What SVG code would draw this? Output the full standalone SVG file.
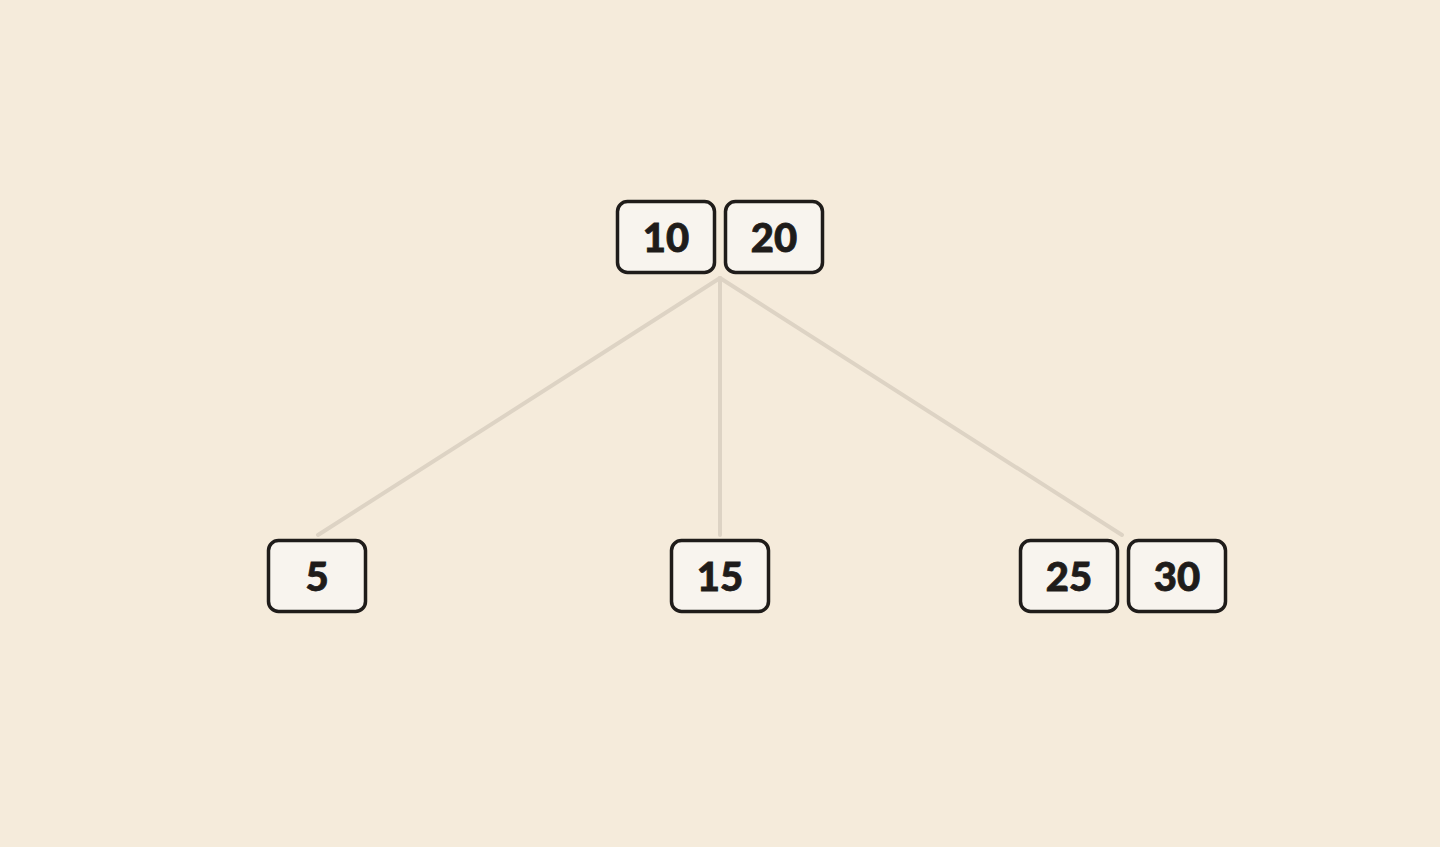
<svg xmlns="http://www.w3.org/2000/svg" width="1440" height="847" viewBox="0 0 1440 847">
<style>
.k rect{fill:#f8f4ee;stroke:#1f1c1a;stroke-width:3.5}
.k text{font-family:Lato,"Liberation Sans",sans-serif;font-weight:900;font-size:40px;fill:#1f1c1a;stroke:#1f1c1a;stroke-width:0.8;text-anchor:middle}
.e line{stroke:#ddd3c4;stroke-width:4;stroke-linecap:round}
</style>
<rect width="1440" height="847" fill="#f5ebdb"/>
<g id="edges" class="e">
<line x1="720" y1="278" x2="318" y2="535"/>
<line x1="720" y1="278" x2="720" y2="535"/>
<line x1="720" y1="278" x2="1122" y2="535"/>
</g>
<g id="root" class="k">
<rect x="617.5" y="201.5" width="97" height="71" rx="10"/>
<text x="666" y="252">10</text>
<rect x="725.5" y="201.5" width="97" height="71" rx="10"/>
<text x="774" y="252">20</text>
</g>
<g id="n5" class="k">
<rect x="268.5" y="540.5" width="97" height="71" rx="10"/>
<text x="317" y="591">5</text>
</g>
<g id="n15" class="k">
<rect x="671.5" y="540.5" width="97" height="71" rx="10"/>
<text x="720" y="591">15</text>
</g>
<g id="n2530" class="k">
<rect x="1020.5" y="540.5" width="97" height="71" rx="10"/>
<text x="1069" y="591">25</text>
<rect x="1128.5" y="540.5" width="97" height="71" rx="10"/>
<text x="1177" y="591">30</text>
</g>
</svg>
